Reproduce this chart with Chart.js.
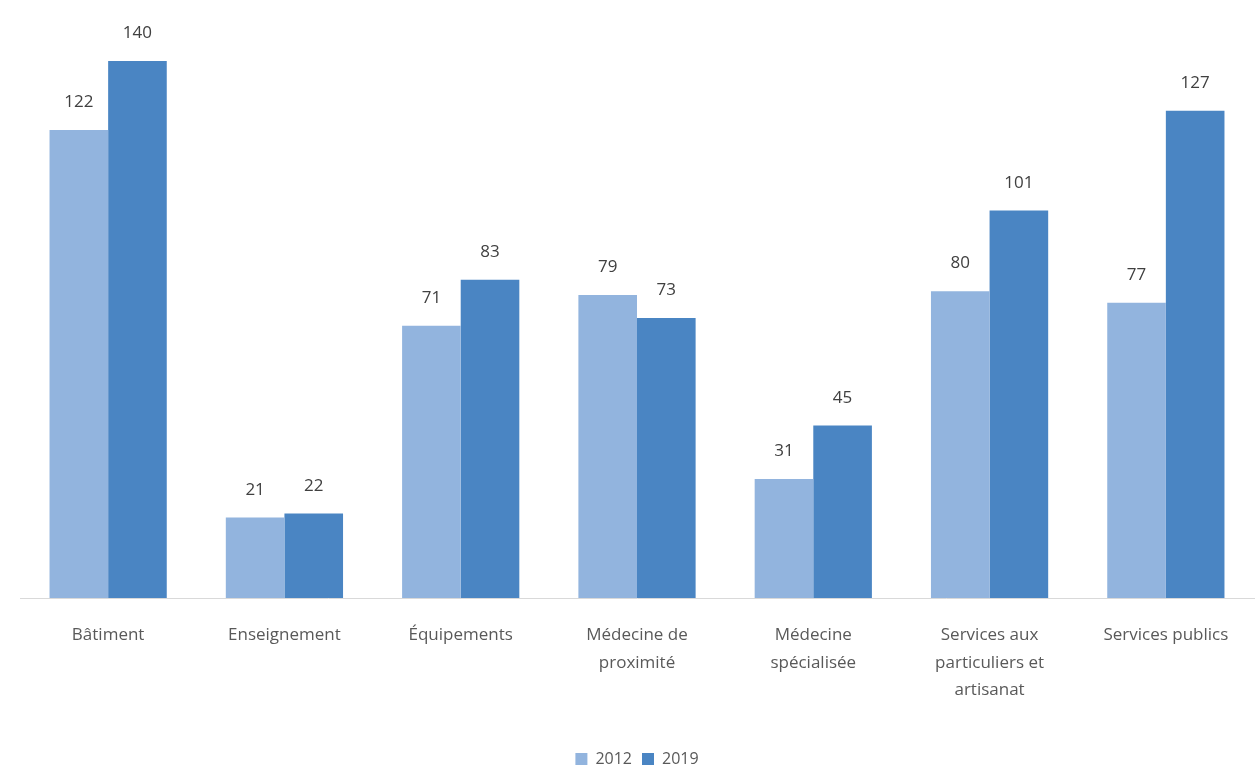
<!DOCTYPE html>
<html>
<head>
<meta charset="utf-8">
<script src="https://cdn.jsdelivr.net/npm/chart.js@4"></script>
<style>
  html, body { margin: 0; padding: 0; background: #fff; }
  #wrap { width: 1255px; height: 767px; }
</style>
</head>
<body>
<div id="wrap"><canvas id="myChart"></canvas></div>
<script>
const categories = [
  "Bâtiment",
  "Enseignement",
  "Équipements",
  ["Médecine de", "proximité"],
  ["Médecine", "spécialisée"],
  ["Services aux", "particuliers et", "artisanat"],
  "Services publics",
];
const values2012 = [122, 21, 71, 79, 31, 80, 77];
const values2019 = [140, 22, 83, 73, 45, 101, 127];
const seriesNames = ["2012", "2019"];

// draws the value above each bar
const valueLabels = {
  id: "valueLabels",
  afterDatasetsDraw(chart) {
    const ctx = chart.ctx;
    ctx.save();
    ctx.font = "17px 'Open Sans'";
    ctx.fillStyle = "#404040";
    ctx.textAlign = "center";
    ctx.textBaseline = "bottom";
    chart.data.datasets.forEach((ds, i) => {
      chart.getDatasetMeta(i).data.forEach((bar, j) => {
        ctx.fillText(ds.data[j], bar.x, bar.y - 19);
      });
    });
    ctx.restore();
  },
};

const ctx = document.getElementById("myChart");
new Chart(ctx, {
  type: "bar",
  data: {
    labels: categories,
    datasets: [
      {
        label: seriesNames[0],
        data: values2012,
        backgroundColor: "#92b4de",
        barPercentage: 1,
        categoryPercentage: 0.665,
      },
      {
        label: seriesNames[1],
        data: values2019,
        backgroundColor: "#4a85c3",
        barPercentage: 1,
        categoryPercentage: 0.665,
      },
    ],
  },
  options: {
    responsive: true,
    maintainAspectRatio: false,
    animation: false,
    layout: { padding: { top: 61, left: 20, right: 1, bottom: -10 } },
    scales: {
      y: { display: false, min: 0, max: 140 },
      x: {
        grid: { display: false },
        border: { display: true, color: "#d9d9d9", width: 1 },
        ticks: {
          color: "#595959",
          font: { family: "'Open Sans'", size: 17, lineHeight: 1.6 },
          padding: 16,
          maxRotation: 0,
          autoSkip: false,
        },
        afterFit(scale) {
          scale.height = 143;
        },
      },
    },
    plugins: {
      tooltip: { enabled: false },
      legend: {
        position: "bottom",
        labels: {
          color: "#595959",
          font: { family: "'Open Sans'", size: 16 },
          boxWidth: 12,
          boxHeight: 12,
          padding: 10,
        },
      },
    },
  },
  plugins: [valueLabels],
});
</script>
</body>
</html>
